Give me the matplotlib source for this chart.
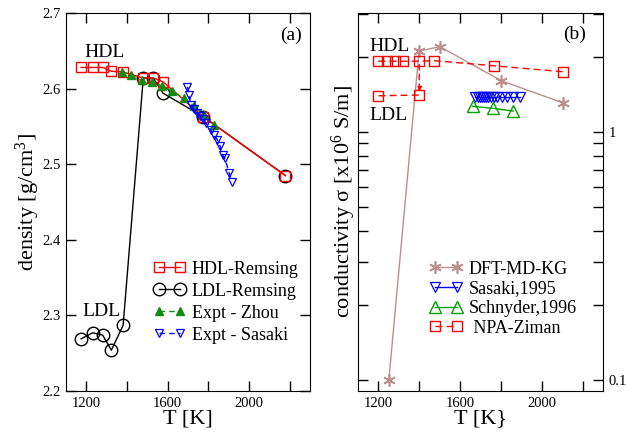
import matplotlib
matplotlib.use("Agg")
import matplotlib.pyplot as plt
import numpy as np
from matplotlib.ticker import FixedLocator, NullFormatter, FixedFormatter, NullLocator

plt.rcParams['font.family'] = ['Liberation Serif', 'DejaVu Serif']
plt.rcParams['mathtext.fontset'] = 'custom'
plt.rcParams['mathtext.rm'] = 'Liberation Serif'
plt.rcParams['mathtext.it'] = 'Liberation Serif:italic'

# ---- panel (a) data: density ----
hdl_T = [1174, 1231, 1280, 1323, 1381, 1480, 1529, 1577, 1774, 2179]
hdl_rho = [2.628, 2.628, 2.628, 2.623, 2.622, 2.614, 2.614, 2.609, 2.563, 2.485]

ldl_T = [1174, 1231, 1280, 1323, 1381, 1480, 1529, 1577, 1774, 2179]
ldl_rho = [2.269, 2.277, 2.274, 2.254, 2.287, 2.614, 2.614, 2.594, 2.563, 2.485]

zhou_T = [1373, 1422, 1472, 1524, 1574, 1623, 1681, 1730, 1779, 1829]
zhou_rho = [2.622, 2.618, 2.611, 2.609, 2.603, 2.597, 2.587, 2.577, 2.565, 2.552]

sasaki_T = [1697, 1705, 1714, 1728, 1743, 1758, 1773, 1788, 1812, 1829, 1845, 1858,
            1870, 1881, 1903, 1916]
sasaki_rho = [2.6025, 2.5915, 2.578, 2.573, 2.568, 2.564, 2.560, 2.5545, 2.545, 2.539,
              2.532, 2.524, 2.512, 2.508, 2.488, 2.477]

# ---- panel (b) data: conductivity ----
dft_T = [1251, 1399, 1501, 1802, 2105]
dft_sigma = [0.10, 2.12, 2.21, 1.61, 1.31]

sas95_T = [1675, 1688, 1698, 1708, 1718, 1728, 1738, 1750, 1765, 1783, 1805, 1830, 1860, 1895]
sas95_sigma = [1.39, 1.39, 1.39, 1.39, 1.39, 1.39, 1.39, 1.39, 1.39, 1.39, 1.39, 1.39, 1.39, 1.39]

sch96_T = [1661, 1761, 1860]
sch96_sigma = [1.27, 1.246, 1.215]

npa_hdl_T = [1200, 1240, 1280, 1320, 1400, 1473, 1765, 2105]
npa_hdl_sigma = [1.93, 1.93, 1.93, 1.93, 1.93, 1.94, 1.85, 1.75]
npa_ldl_T = [1200, 1400]
npa_ldl_sigma = [1.40, 1.41]

x_ticks = [1200, 1400, 1600, 1800, 2000, 2200]
x_labels = ['1200', '', '1600', '', '2000', '']

fig = plt.figure(figsize=(6.26, 4.32), dpi=100)
axa = fig.add_axes([66/626, 1-391/432, (310-66)/626, (391-13)/432])
axb = fig.add_axes([358/626, 1-391/432, (603-358)/626, (391-13)/432])

red = '#ff0000'
green = '#128c12'
blue = '#0000ff'
rosy = '#bc8f8f'

# panel (a)
axa.plot(hdl_T, hdl_rho, color=red, lw=1.0, marker='s', ms=7.5, mfc='none', mec=red,
         mew=1.0, label='HDL-Remsing', zorder=3)
axa.plot(ldl_T, ldl_rho, color='black', lw=1.0, marker='o', ms=9, mfc='none', mec='black',
         mew=1.0, label='LDL-Remsing', zorder=2)
axa.plot(zhou_T, zhou_rho, color=green, lw=1.0, ls=(0, (4, 3)), marker='^', ms=5.5,
         mfc=green, mec=green, label='Expt - Zhou', zorder=4)
axa.plot(sasaki_T, sasaki_rho, color=blue, lw=1.0, ls=(0, (4, 3)), marker='v', ms=5.5,
         mfc='none', mec=blue, mew=0.9, label='Expt - Sasaki', zorder=5)

axa.set_xlim(1100, 2300)
axa.set_ylim(2.2, 2.7)
axa.xaxis.set_major_locator(FixedLocator(x_ticks))
axa.xaxis.set_major_formatter(FixedFormatter(x_labels))
axa.yaxis.set_major_locator(FixedLocator([2.2, 2.3, 2.4, 2.5, 2.6, 2.7]))
axa.yaxis.set_major_formatter(FixedFormatter(['2.2', '2.3', '2.4', '2.5', '2.6', '2.7']))
axa.tick_params(direction='in', length=7, width=1, top=True, right=True, labelsize=10.5, pad=4)
axa.set_xlabel('T [K]', fontsize=16, labelpad=0)
axa.set_ylabel('density [g/cm$^3$]', fontsize=16, labelpad=0)
axa.text(1289, 2.648, 'HDL', fontsize=14, ha='center', va='center')
axa.text(1274, 2.3045, 'LDL', fontsize=14, ha='center', va='center')
axa.text(2207, 2.671, '(a)', fontsize=14, ha='center', va='center')
axa.legend(loc='upper left', bbox_to_anchor=(0.357, 0.345), frameon=False, fontsize=13,
           handlelength=1.8, handletextpad=0.35, labelspacing=0.28, borderpad=0,
           borderaxespad=0, numpoints=2)

# panel (b)
axb.plot(dft_T, dft_sigma, color=rosy, lw=1.0, marker=(6, 2, 0), ms=9, mec=rosy, mew=1.2,
         label='DFT-MD-KG', zorder=3)
axb.plot(sas95_T, sas95_sigma, color=blue, lw=1.0, marker='v', ms=6.5, mfc='none', mec=blue,
         mew=0.9, label='Sasaki,1995', zorder=4)
axb.plot(sch96_T, sch96_sigma, color='#00a000', lw=1.0, marker='^', ms=8, mfc='none',
         mec='#00a000', mew=1.0, label='Schnyder,1996', zorder=4)
axb.plot(npa_hdl_T, npa_hdl_sigma, color=red, lw=1.0, ls=(0, (5, 3)), marker='s', ms=7.5,
         mfc='none', mec=red, mew=1.0, label=' NPA-Ziman', zorder=5)
axb.plot(npa_ldl_T, npa_ldl_sigma, color=red, lw=1.0, ls=(0, (5, 3)), marker='s', ms=7.5,
         mfc='none', mec=red, mew=1.0, zorder=5)
axb.annotate('', xy=(npa_ldl_T[1], npa_ldl_sigma[1] * 1.03),
             xytext=(npa_hdl_T[4], npa_hdl_sigma[4] * 0.97),
             arrowprops=dict(arrowstyle='-|>', color=red, lw=1.0, ls=(0, (4, 3)),
                             mutation_scale=7, shrinkA=0, shrinkB=0))

axb.set_yscale('log')
axb.set_xlim(1100, 2300)
axb.set_ylim(0.0903, 3.02)
axb.xaxis.set_major_locator(FixedLocator(x_ticks))
axb.xaxis.set_major_formatter(FixedFormatter(x_labels))
minor_vals = [0.2, 0.3, 0.4, 0.5, 0.6, 0.7, 0.8, 0.9, 2, 3]
axb.yaxis.set_major_locator(FixedLocator([0.1, 1]))
axb.yaxis.set_major_formatter(FixedFormatter(['0.1', '1']))
axb.yaxis.set_minor_locator(FixedLocator(minor_vals))
axb.yaxis.set_minor_formatter(NullFormatter())
axb.tick_params(which='both', direction='in', length=7, width=1, top=True, right=True,
                labelsize=10.5, pad=4, labelleft=False, labelright=True)
axb.set_xlabel('T [K}', fontsize=16, labelpad=0)
axb.set_ylabel('conductivity \u03c3 [x10$^6$ S/m]', fontsize=16, labelpad=0)
axb.text(1254, 2.22, 'HDL', fontsize=14, ha='center', va='center')
axb.text(1249, 1.17, 'LDL', fontsize=14, ha='center', va='center')
axb.text(2163, 2.48, '(b)', fontsize=14, ha='center', va='center')
axb.legend(loc='upper left', bbox_to_anchor=(0.294, 0.345), frameon=False, fontsize=13,
           handlelength=1.8, handletextpad=0.35, labelspacing=0.15, borderpad=0,
           borderaxespad=0, numpoints=2)

fig.savefig('out.png', dpi=100)
